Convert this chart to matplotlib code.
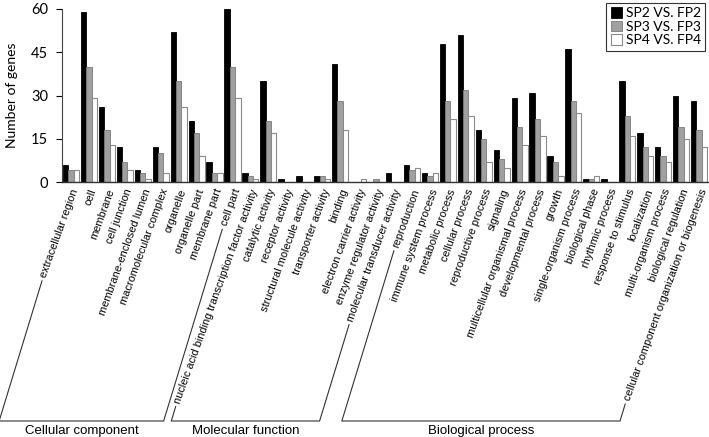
import math

import matplotlib
matplotlib.use("Agg")
import matplotlib.pyplot as plt
from matplotlib.lines import Line2D
import numpy as np

categories = [
    "extracellular region", "cell", "membrane", "cell junction",
    "membrane-enclosed lumen", "macromolecular complex", "organelle",
    "organelle part", "membrane part", "cell part",
    "nucleic acid binding transcription factor activity", "catalytic activity",
    "receptor activity", "structural molecule activity", "transporter activity",
    "binding", "electron carrier activity", "enzyme regulator activity",
    "molecular transducer activity",
    "reproduction", "immune system process", "metabolic process",
    "cellular process", "reproductive process", "signaling",
    "multicellular organismal process", "developmental process", "growth",
    "single-organism process", "biological phase", "rhythmic process",
    "response to stimulus", "localization", "multi-organism process",
    "biological regulation", "cellular component organization or biogenesis",
]

sp2 = [6, 59, 26, 12, 4, 12, 52, 21, 7, 60,
       3, 35, 1, 2, 2, 41, 0, 0, 3,
       6, 3, 48, 51, 18, 11, 29, 31, 9, 46, 1, 1, 35, 17, 12, 30, 28]
sp3 = [4, 40, 18, 7, 3, 10, 35, 17, 3, 40,
       2, 21, 0, 0, 2, 28, 0, 1, 0,
       4, 2, 28, 32, 15, 8, 19, 22, 7, 28, 1, 0, 23, 12, 9, 19, 18]
sp4 = [4, 29, 13, 4, 1, 3, 26, 9, 3, 29,
       1, 17, 0, 0, 1, 18, 1, 0, 0,
       5, 3, 22, 23, 7, 5, 13, 16, 2, 24, 2, 0, 16, 9, 7, 15, 12]

series_names = ["SP2 VS. FP2", "SP3 VS. FP3", "SP4 VS. FP4"]

# (group name, first index, last index)
groups = [("Cellular component", 0, 9),
          ("Molecular function", 10, 18),
          ("Biological process", 19, 35)]

W, H = 709, 437
fig = plt.figure(figsize=(W / 100, H / 100), dpi=100)
ax = fig.add_axes([62 / W, 1 - 182 / H, (708 - 62) / W, (182 - 9) / H])

x = np.arange(len(categories))
bw = 0.3
ax.bar(x - bw, sp2, bw, color="black", edgecolor="black", linewidth=0.6,
       label=series_names[0])
ax.bar(x, sp3, bw, color="#a0a0a0", edgecolor="#7a7a7a", linewidth=0.6,
       label=series_names[1])
ax.bar(x + bw, sp4, bw, color="white", edgecolor="#8a8a8a", linewidth=0.8,
       label=series_names[2])

ax.set_xlim(-0.5, len(categories) - 0.5)
ax.set_ylim(0, 60)
ax.set_yticks([0, 15, 30, 45, 60])
ax.tick_params(axis="y", direction="out", length=4, width=0.8,
               labelsize=10.5, pad=6)
for t in ax.get_yticklabels():
    t.set_family("Lato")
ax.set_ylabel("Number of genes", fontsize=10, family="Lato", labelpad=9)

ax.set_xticks(x)
ax.set_xticklabels(categories, rotation=70, ha="right",
                   rotation_mode="anchor", fontsize=7.9,
                   family="Liberation Sans")
ax.tick_params(axis="x", length=0, pad=4)

for s in ["top", "right"]:
    ax.spines[s].set_visible(False)
ax.spines["left"].set_color("#444444")
ax.spines["bottom"].set_color("#333333")
ax.spines["bottom"].set_linewidth(1.0)

leg = ax.legend(loc="upper right", bbox_to_anchor=(1.0, 1.05),
                prop={"family": "Lato", "size": 10}, frameon=True,
                fancybox=False, edgecolor="black", handlelength=0.8,
                handleheight=0.8, handletextpad=0.3, borderpad=0.3,
                labelspacing=0.1, borderaxespad=0.2)
leg.get_frame().set_linewidth(0.8)

# group brackets drawn under the rotated labels
fig.canvas.draw()
renderer = fig.canvas.get_renderer()
labels = ax.get_xticklabels()
base_y = 1 - 421 / H
slope = math.tan(math.radians(73))


def label_end(i):
    bb = labels[i].get_window_extent(renderer)
    return (bb.x0 + 3) / W, (bb.y0 - 2) / H


for name, i0, i1 in groups:
    (xa, ya), (xb, yb) = label_end(i0), label_end(i1)
    xa0 = xa - (ya - base_y) * H / slope / W
    xb0 = xb - (yb - base_y) * H / slope / W
    fig.add_artist(Line2D([xa, xa0, xb0, xb], [ya, base_y, base_y, yb],
                          transform=fig.transFigure, color="#333333",
                          linewidth=0.8))
    fig.text((xa0 + xb0) / 2, base_y - 4 / H, name, ha="center", va="top",
             fontsize=9.5, family="Liberation Sans")

fig.savefig("out.png", dpi=100)
